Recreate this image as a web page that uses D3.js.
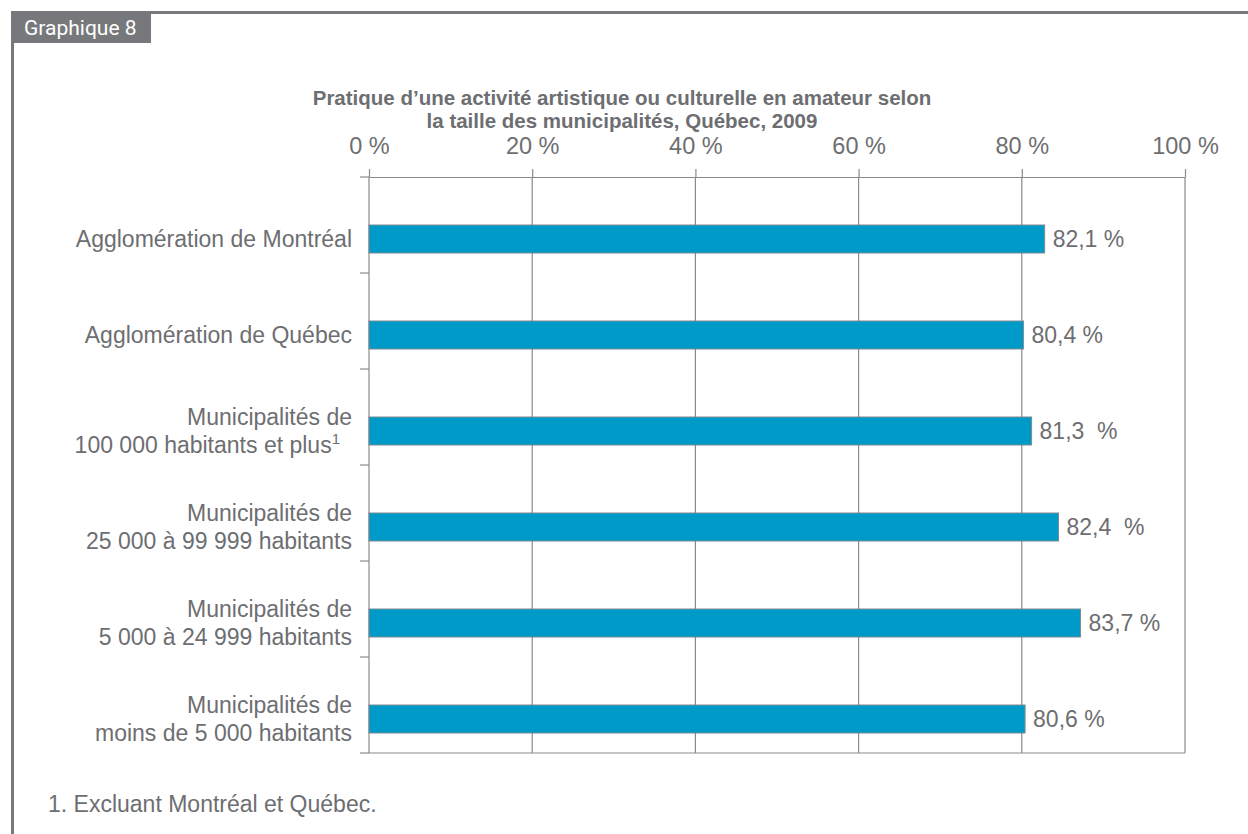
<!DOCTYPE html>
<html>
<head>
<meta charset="utf-8">
<script src="https://cdn.jsdelivr.net/npm/d3@7"></script>
<style>
  html, body { margin: 0; padding: 0; background: #fff; }
  svg { display: block; font-family: "Liberation Sans", Arial, Helvetica, sans-serif; }
</style>
</head>
<body>
<svg id="chart" width="1248" height="834"></svg>
<script>
// ---- data ----
const categories = [
  ["Agglomération de Montréal"],
  ["Agglomération de Québec"],
  ["Municipalités de", "100 000 habitants et plus"],
  ["Municipalités de", "25 000 à 99 999 habitants"],
  ["Municipalités de", "5 000 à 24 999 habitants"],
  ["Municipalités de", "moins de 5 000 habitants"]
];
const footnoteMarks = ["", "", "1", "", "", ""];
// bar lengths as drawn in the picture (%)
const barValues = [82.8, 80.2, 81.2, 84.5, 87.2, 80.4];
// data labels as printed
const valueLabels = ["82,1 %", "80,4 %", "81,3\u00a0\u00a0%", "82,4\u00a0\u00a0%", "83,7 %", "80,6 %"];
const tickValues = [0, 20, 40, 60, 80, 100];
const tickLabels = ["0 %", "20 %", "40 %", "60 %", "80 %", "100 %"];
const titleLines = ["Pratique d’une activité artistique ou culturelle en amateur selon",
                    "la taille des municipalités, Québec, 2009"];
const tabText = "Graphique 8";
const footnote = "1. Excluant Montréal et Québec.";

// ---- styles ----
const textColor = "#6d6e71";
const frameColor = "#77787b";
const gridColor = "#8a8a8a";
const barColor = "#009ac9";

const svg = d3.select("#chart");
const plot = { left: 369, right: 1185, top: 177, bottom: 753 };

// frame
svg.append("line").attr("x1", 12).attr("x2", 1248).attr("y1", 12.5).attr("y2", 12.5)
  .attr("stroke", frameColor).attr("stroke-width", 3);
svg.append("line").attr("x1", 12.5).attr("x2", 12.5).attr("y1", 11).attr("y2", 834)
  .attr("stroke", frameColor).attr("stroke-width", 3);
svg.append("rect").attr("x", 11).attr("y", 11).attr("width", 140).attr("height", 32)
  .attr("fill", frameColor);
svg.append("text").attr("x", 24).attr("y", 35).attr("fill", "#fff")
  .attr("font-size", 21).attr("font-family", "'Roboto', 'Liberation Sans', sans-serif")
  .text(tabText);

// title
const title = svg.append("text").attr("text-anchor", "middle").attr("fill", textColor)
  .attr("font-weight", "bold").attr("font-size", 20.5);
titleLines.forEach((t, i) => {
  title.append("tspan").attr("x", 622).attr("y", 105 + i * 23).text(t);
});

// scales
const x = d3.scaleLinear().domain([0, 100]).range([plot.left, plot.right]);
const y = d3.scaleBand().domain(d3.range(categories.length)).range([plot.top, plot.bottom]).padding(0);

// gridlines
svg.append("g").selectAll("line").data(tickValues).join("line")
  .attr("x1", d => x(d)).attr("x2", d => x(d))
  .attr("y1", plot.top).attr("y2", plot.bottom)
  .attr("stroke", gridColor).attr("stroke-width", 1.2);

// top axis
const xAxis = d3.axisTop(x).tickValues(tickValues)
  .tickFormat((d, i) => tickLabels[i]).tickSize(8).tickPadding(15).tickSizeOuter(0);
const gx = svg.append("g").attr("transform", `translate(0,${plot.top})`).call(xAxis);
gx.select(".domain").attr("stroke", gridColor).attr("stroke-width", 1.2);
gx.selectAll(".tick line").attr("stroke", gridColor).attr("stroke-width", 1.2);
gx.selectAll(".tick text").attr("fill", textColor).attr("font-size", 23.5)
  .attr("font-family", "'Liberation Sans', Arial, sans-serif");

// left category separators (ticks)
const bounds = d3.range(categories.length + 1).map(i => i < categories.length ? y(i) : plot.bottom);
svg.append("g").selectAll("line").data(bounds).join("line")
  .attr("x1", plot.left - 9).attr("x2", plot.left)
  .attr("y1", d => d).attr("y2", d => d)
  .attr("stroke", gridColor).attr("stroke-width", 1.2);

// bottom border of plot
svg.append("line").attr("x1", plot.left).attr("x2", plot.right)
  .attr("y1", plot.bottom).attr("y2", plot.bottom)
  .attr("stroke", gridColor).attr("stroke-width", 1.2);

// bars
const barH = 28;
svg.append("g").selectAll("rect").data(barValues).join("rect")
  .attr("x", x(0))
  .attr("y", (d, i) => y(i) + y.bandwidth() / 2)
  .attr("width", d => x(d) - x(0))
  .attr("height", barH)
  .attr("fill", barColor)
  .attr("stroke", "#7f8a90").attr("stroke-width", 1);

// value labels
svg.append("g").selectAll("text").data(barValues).join("text")
  .attr("x", d => x(d) + 8)
  .attr("y", (d, i) => y(i) + y.bandwidth() / 2 + barH / 2)
  .attr("dy", "0.35em")
  .attr("fill", textColor).attr("font-size", 23)
  .text((d, i) => valueLabels[i]);

// category labels
const catG = svg.append("g").attr("fill", textColor).attr("font-size", 23).attr("text-anchor", "end");
categories.forEach((lines, i) => {
  const cy = y(i) + y.bandwidth() / 2 + barH / 2;
  const lh = 28;
  const t = catG.append("text");
  lines.forEach((ln, j) => {
    t.append("tspan").attr("x", footnoteMarks[i] && j === lines.length - 1 ? 340 : 352)
      .attr("y", cy + (j - (lines.length - 1) / 2) * lh).attr("dy", "0.35em").text(ln);
    if (j === lines.length - 1 && footnoteMarks[i]) {
      t.append("tspan").attr("dy", -9).attr("font-size", 15).text(footnoteMarks[i]);
    }
  });
});

// footnote
svg.append("text").attr("x", 48).attr("y", 812).attr("fill", textColor)
  .attr("font-size", 23).text(footnote);
</script>
</body>
</html>
